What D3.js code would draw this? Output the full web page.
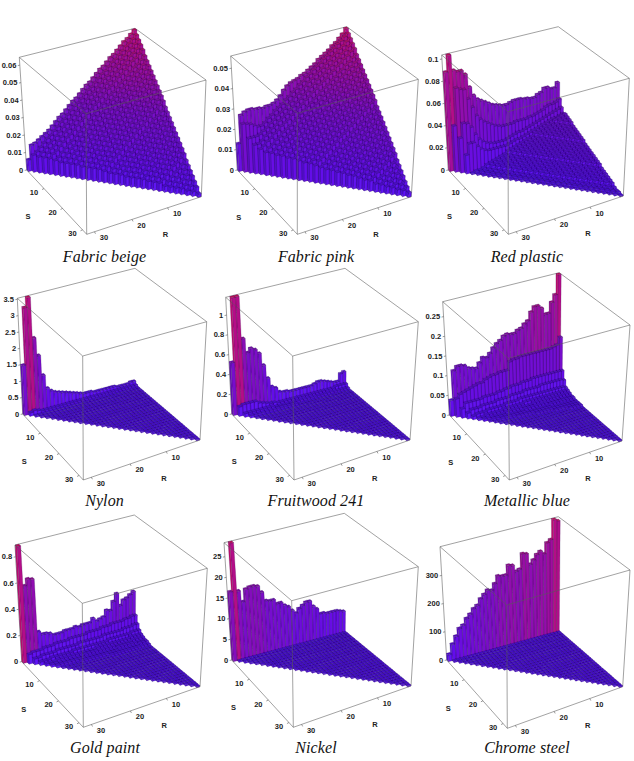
<!DOCTYPE html>
<html lang="en">
<head>
<meta charset="UTF-8"/>
<title>BRDF histograms</title>
<script src="https://cdnjs.cloudflare.com/ajax/libs/d3/7.8.5/d3.min.js"></script>
<style>
    html, body { margin: 0; padding: 0; background: #fff; }
    .tick-label { font: bold 7.5px "Liberation Sans", Arial, sans-serif; fill: #222; }
    .panel-title { font: italic 16px "Liberation Serif", "Times New Roman", serif; fill: #111; letter-spacing: .1px; }
</style>
</head>
<body>
<svg id="chart" width="634" height="761"></svg>
<script>
    // bins per side of the R/S domain
    const binCount = 32;
    // cells that are not listed sit at this level
    const floorLevel = 1;

    const panelNames = ["Fabric beige", "Fabric pink", "Red plastic", "Nylon", "Fruitwood 241", "Metallic blue", "Gold paint", "Nickel", "Chrome steel"];
    const zMaxes = [0.0645, 0.056, 0.1036, 3.53, 1.18, 0.288, 0.89, 28.4, 402];
    const zTicks = [
        [0, 0.01, 0.02, 0.03, 0.04, 0.05, 0.06],
        [0, 0.01, 0.02, 0.03, 0.04, 0.05],
        [0, 0.02, 0.04, 0.06, 0.08, 0.1],
        [0, 0.5, 1, 1.5, 2, 2.5, 3, 3.5],
        [0, 0.2, 0.4, 0.6, 0.8, 1],
        [0, 0.05, 0.1, 0.15, 0.2, 0.25],
        [0, 0.2, 0.4, 0.6, 0.8],
        [0, 5, 10, 15, 20, 25],
        [0, 100, 200, 300]
    ];
    const axisTicks = [10, 20, 30];

    // bar heights, percent of the box height; one row per S bin, R = 0 first
    const beigeRows = [
        [100,97,94,92,89,86,83,81,78,75,73,70,67,64,62,59,56,53,51,48,45,42,40,37,34,31,29,27,25,23,22,10],
        [97,94,91,89,86,83,80,78,75,72,70,67,64,61,59,56,53,50,48,45,42,39,37,34,31,28,26,23,20,17,15],
        [94,91,88,86,83,80,77,75,72,69,67,64,61,58,56,53,50,47,45,42,39,36,34,31,28,25,23,20,17,14],
        [91,88,85,83,80,77,74,72,69,66,64,61,58,55,53,50,47,44,42,39,36,33,31,28,25,22,20,17,14],
        [88,85,82,80,77,74,71,69,66,63,61,58,55,52,50,47,44,41,39,36,33,30,28,25,22,19,17,14],
        [84,81,78,76,73,70,67,65,62,59,57,54,51,48,46,43,40,37,35,32,29,26,24,21,18,15,13],
        [81,78,75,73,70,67,64,62,59,56,54,51,48,45,43,40,37,34,32,29,26,23,21,18,15,12],
        [78,75,72,70,67,64,61,59,56,53,51,48,45,42,40,37,34,31,29,26,23,20,18,15,12],
        [75,72,69,67,64,61,58,56,53,50,48,45,42,39,37,34,31,28,26,23,20,17,15,12],
        [72,69,66,64,61,58,55,53,50,47,45,42,39,36,34,31,28,25,23,20,17,14,12],
        [69,66,63,61,58,55,52,50,47,44,42,39,36,33,31,28,25,22,20,17,14,11],
        [66,63,60,58,55,52,49,47,44,41,39,36,33,30,28,25,22,19,17,14,11],
        [63,60,57,55,52,49,46,44,41,38,36,33,30,27,25,22,19,16,14,11],
        [60,57,54,52,49,46,43,41,38,35,33,30,27,24,22,19,16,13,11],
        [57,54,51,49,46,43,40,38,35,32,30,27,24,21,19,16,13,10],
        [53,50,47,45,42,39,36,34,31,28,26,23,20,17,15,12,9],
        [50,47,44,42,39,36,33,31,28,25,23,20,17,14,12,9],
        [47,44,41,39,36,33,30,28,25,22,20,17,14,11,9],
        [44,41,38,36,33,30,27,25,22,19,17,14,11,8],
        [41,38,35,33,30,27,24,22,19,16,14,11,8],
        [38,35,32,30,27,24,21,19,16,13,11,8],
        [35,32,29,27,24,21,18,16,13,10,8],
        [32,29,26,24,21,18,15,13,10,7],
        [29,26,23,21,18,15,12,10,7],
        [26,23,20,18,15,12,9,7],
        [22,19,16,14,11,8,5],
        [19,16,13,11,8,5],
        [16,13,10,8,5],
        [13,10,7,5],
        [10,7,4],
        [7,4],
        [3]
    ];
    const pinkRows = [
        [100,96,93,90,88,85,83,81,79,76,74,72,70,69,67,66,65,63,60,56,53,51,50,50,49,50,50,51,51,50,48,24],
        [97,95,92,90,87,85,82,80,77,75,73,70,68,65,63,60,58,55,53,50,48,46,43,41,38,36,36,38,40,41,42],
        [94,92,89,87,84,82,79,77,74,72,70,67,65,62,60,57,55,52,50,47,45,43,40,38,35,33,31,30,30,30],
        [91,89,86,84,81,79,76,74,71,69,67,64,62,59,57,54,52,49,47,44,42,40,37,35,32,30,27,25,25],
        [88,86,83,81,78,76,73,71,68,66,64,61,59,56,54,51,49,46,44,41,39,37,34,32,29,27,24,22],
        [84,82,79,77,74,72,69,67,64,62,60,57,55,52,50,47,45,42,40,37,35,33,30,28,25,23,20],
        [81,79,76,74,71,69,66,64,61,59,57,54,52,49,47,44,42,39,37,34,32,30,27,25,22,20],
        [78,76,73,71,68,66,63,61,58,56,54,51,49,46,44,41,39,36,34,31,29,27,24,22,19],
        [75,73,70,68,65,63,60,58,55,53,51,48,46,43,41,38,36,33,31,28,26,24,21,19],
        [72,70,67,65,62,60,57,55,52,50,48,45,43,40,38,35,33,30,28,25,23,21,18],
        [69,67,64,62,59,57,54,52,49,47,45,42,40,37,35,32,30,27,25,22,20,18],
        [66,64,61,59,56,54,51,49,46,44,42,39,37,34,32,29,27,24,22,19,17],
        [63,61,58,56,53,51,48,46,43,41,39,36,34,31,29,26,24,21,19,16],
        [60,58,55,53,50,48,45,43,40,38,36,33,31,28,26,23,21,18,16],
        [57,55,52,50,47,45,42,40,37,35,33,30,28,25,23,20,18,15],
        [53,51,48,46,43,41,38,36,33,31,29,26,24,21,19,16,14],
        [50,48,45,43,40,38,35,33,30,28,26,23,21,18,16,13],
        [47,45,42,40,37,35,32,30,27,25,23,20,18,15,13],
        [44,42,39,37,34,32,29,27,24,22,20,17,15,12],
        [41,39,36,34,31,29,26,24,21,19,17,14,12],
        [38,36,33,31,28,26,23,21,18,16,14,11],
        [35,33,30,28,25,23,20,18,15,13,11],
        [32,30,27,25,22,20,17,15,12,10],
        [29,27,24,22,19,17,14,12,9],
        [26,24,21,19,16,14,11,9],
        [22,20,17,15,12,10,7],
        [19,17,14,12,9,7],
        [16,14,11,9,6],
        [13,11,8,6],
        [10,8,5],
        [7,5],
        [4]
    ];
    const redRows = [
        [53,49,49,51,51,48,47,45,45,46,46,47,47,47,46,45,45,46,47,48,50,52,54,56,60,68,80,84,84,86,100,86],
        [40,38,37,37,36,34,33,32,31,31,30,30,30,30,29,29,29,29,30,31,33,35,37,40,44,52,60,69,70,72,40],
        [34,33,32,31,30,29,28,27,26,25,24,23,22,22,21,20,19,18,18,18,18,19,20,22,25,30,37,41,42,30],
        [30,29,28,28,27,26,25,24,23,22,21,20,19,18,18,17,16,15,15,15,15,15,15,16,18,21,25,25,16],
        [31,30,29,28,26,25,24,23,22,21,19,18,17,16,15,14,13,12,10,9,8,7,6,5,3,2,2,1],
        [30,29,28,26,25,24,23,22,21,19,18,17,16,15,14,13,12,10,9,8,7,6,5,3,2,2,1],
        [29,28,26,25,24,23,22,21,19,18,17,16,15,14,13,12,10,9,8,7,6,5,3,2,2,1],
        [28,26,25,24,23,22,21,19,18,17,16,15,14,13,12,10,9,8,7,6,5,3,2,2,1],
        [26,25,24,23,22,21,19,18,17,16,15,14,13,12,10,9,8,7,6,5,3,2,2,1],
        [25,24,23,22,21,19,18,17,16,15,14,13,12,10,9,8,7,6,5,3,2,2,1],
        [24,23,22,21,19,18,17,16,15,14,13,12,10,9,8,7,6,5,3,2,2,1],
        [23,22,21,19,18,17,16,15,14,13,12,10,9,8,7,6,5,3,2,2,1],
        [22,21,19,18,17,16,15,14,13,12,10,9,8,7,6,5,3,2,2,1],
        [21,19,18,17,16,15,14,13,12,10,9,8,7,6,5,3,2,2,1],
        [19,18,17,16,15,14,13,12,10,9,8,7,6,5,3,2,2,1],
        [18,17,16,15,14,13,12,10,9,8,7,6,5,3,2,2,1],
        [17,16,15,14,13,12,10,9,8,7,6,5,3,2,2,1],
        [16,15,14,13,12,10,9,8,7,6,5,3,2,2,1],
        [15,14,13,12,10,9,8,7,6,5,3,2,2,1],
        [14,13,12,10,9,8,7,6,5,3,2,2,1],
        [13,12,10,9,8,7,6,5,3,2,2,1],
        [12,10,9,8,7,6,5,3,2,2,1],
        [10,9,8,7,6,5,3,2,2,1],
        [9,8,7,6,5,3,2,2,1],
        [8,7,6,5,3,2,2,1],
        [7,6,5,3,2,2,1],
        [6,5,3,2,2,1],
        [5,3,2,2,1],
        [3,2,2,1],
        [2,2,1],
        [2,1],
        [1]
    ];
    const nylonRows = [
        [4,4,3,3,3,3,4,4,4,4,4,4,4,5,5,5,6,7,8,9,10,11,12,13,15,18,30,48,64,100,92,43],
        [2,2,2,2,2,2,2,2,2,2,2,2,2,2,2,2,2,2,2,2,2,2,2,2,2,2,2,2,3,4,3]
    ];
    const fruitwoodRows = [
        [13,12,6,6,7,8,9,10,10,9,8,8,8,8,8,8,8,9,9,10,14,16,24,36,47,51,53,50,63,100,100,45],
        [4,4,4,4,3,3,3,3,3,3,3,3,3,3,3,3,3,3,3,3,3,4,4,5,6,7,9,9,9,9,8],
        [2,2,2,2,2,2,2,2,2,2,2,2,2,2,2,2,2,2,2,2,2,2,3,3,3,3,3,3,3,3],
        [1,1,1,1,1,1,1,1,1,1,1,1,1,1,1,1,2,2,2,2,2,2,2,2,2,2,2,2,2]
    ];
    const metallicRows = [
        [100,83,77,68,68,74,77,77,73,66,64,61,60,58,58,59,58,55,53,50,46,43,44,40,36,37,38,41,42,42,39,14],
        [46,40,39,38,38,38,38,38,38,38,38,38,38,37,37,36,29,29,29,28,28,27,26,24,24,23,22,21,20,19,16],
        [18,18,18,18,18,18,18,18,18,18,17,17,17,16,16,16,15,15,14,14,13,13,13,13,12,12,12,12,12,8],
        [11,12,12,12,12,12,12,12,11,11,11,11,11,10,10,10,10,9,9,9,9,8,8,8,8,7,7,7,5],
        [6,7,7,7,7,7,7,7,7,7,7,7,7,7,7,6,6,6,6,5,5,5,5,5,4,4,4,3],
        [5,5,5,5,5,5,5,5,5,5,5,5,5,5,4,4,4,4,4,4,3,3,3,3,3,2,2],
        [4,4,4,4,4,4,4,4,4,4,4,4,3,3,3,3,3,3,3,3,2,2,2,2,2,2],
        [3,3,3,3,3,3,3,3,3,3,3,3,3,3,3,2,2,2,2,2,2,2,2,2,1],
        [3,3,3,3,3,3,3,3,2,2,2,2,2,2,2,2,2,2,2,2,2,2,1],
        [2,2,2,2,2,2,2,2,2,2,2,2,2,2,2,2,2,2,1,1,1],
        [2,2,2,2,2,2,2,2,2,2,2,2,2,1,1,1],
        [2,2,2,2,2,2,2,2,1,1],
        [2,2,2,2,1,1]
    ];
    const goldRows = [
        [36,34,32,31,27,38,32,25,26,21,20,19,22,19,19,19,18,19,18,18,18,17,17,17,19,20,20,23,69,70,65,100],
        [17,17,16,16,15,15,15,15,14,14,14,13,13,13,13,12,12,12,12,12,11,11,11,11,10,10,10,9,9,9,8],
        [11,11,10,10,10,9,9,9,9,9,9,8,8,8,8,8,8,8,7,7,7,7,7,7,6,6,6,6,5,5],
        [7,7,7,6,6,6,6,6,6,6,5,5,5,5,5,5,5,5,5,5,4,4,4,4,4,4,3,3,3],
        [5,5,5,5,4,4,4,4,4,4,4,4,4,4,3,3,3,3,3,3,3,3,3,3,3,2,2,2],
        [4,4,4,4,3,3,3,3,3,3,3,3,3,3,3,3,3,3,2,2,2,2,2,2,2,2,2],
        [3,3,3,3,3,3,3,3,3,2,2,2,2,2,2,2,2,2,2,2,2,2,2,2,2,2],
        [3,3,3,2,2,2,2,2,2,2,2,2,2,2,2,2,2,2,2,2,1,1,1],
        [2,2,2,2,2,2,2,2,2,2,2,2,1,1,1,1]
    ];
    const nickelRows = [
        [18,19,20,20,20,20,21,21,26,29,34,34,32,30,27,30,34,36,39,39,43,43,44,52,58,59,59,58,48,58,100,59]
    ];
    const chromeRows = [
        [98,100,83,81,72,75,73,69,66,76,77,64,63,69,70,62,62,63,57,52,53,50,47,42,40,36,33,28,26,20,14,6]
    ];
    const panelRows = [beigeRows, pinkRows, redRows, nylonRows, fruitwoodRows, metallicRows, goldRows, nickelRows, chromeRows];

    // box corners per panel: tl, tf (far), tr, tn (near) on top, bl, bn, br on the floor
    const boxes = [
        {tl: [19.3, 57.3], tf: [135, 28.3], tr: [206, 80], tn: [86, 113.7], bl: [26.7, 170], bn: [86.7, 234.3], br: [201.3, 196.7]},
        {tl: [230.7, 56], tf: [346.7, 26.7], tr: [418.3, 79.3], tn: [297.3, 113.3], bl: [237.3, 170], bn: [297.3, 234.3], br: [411.3, 196.7]},
        {tl: [441.7, 55], tf: [558.3, 26.7], tr: [629.3, 78.3], tn: [508, 111.7], bl: [448.3, 170], bn: [508.3, 234.3], br: [623.3, 196]},
        {tl: [17.3, 298.3], tf: [135, 268.3], tr: [206.7, 321.7], tn: [82.7, 356], bl: [22.7, 414], bn: [83.3, 480], br: [200, 440]},
        {tl: [225.7, 297.3], tf: [345, 268.3], tr: [418.3, 321.7], tn: [292.7, 356], bl: [231.7, 414], bn: [294, 480], br: [410, 440]},
        {tl: [442.7, 301.7], tf: [559.3, 272.7], tr: [630, 325], tn: [508.3, 358.3], bl: [449.3, 415], bn: [509.3, 480], br: [622, 441]},
        {tl: [15, 545], tf: [134.3, 515], tr: [207.3, 568.3], tn: [82.3, 603.3], bl: [21.7, 661.7], bn: [83.3, 727.3], br: [200, 686.7]},
        {tl: [224, 542.7], tf: [344.3, 513.3], tr: [418.3, 566.7], tn: [291.7, 600.7], bl: [231.7, 660], bn: [293.3, 727.3], br: [411, 686]},
        {tl: [440, 546.7], tf: [558.3, 516.7], tr: [630, 570], tn: [506.7, 605], bl: [446.7, 660], bn: [507.3, 728.3], br: [622.7, 686.7]}
    ];
    const titlePositions = [[104.5, 262], [316, 262], [527, 262], [104.5, 506], [316, 506], [527, 506], [105, 753], [316, 753], [527, 753]];

    const svg = d3.select("#chart");
    const defs = svg.append("defs");
    defs.append("filter").attr("id", "soft")
        .attr("x", "-5%").attr("y", "-5%").attr("width", "110%").attr("height", "110%")
        .append("feGaussianBlur").attr("stdDeviation", 0.35);

    // Bars take their colour from their own height
    const colorStops = [0, 0.5, 1];
    const topColor = d3.scaleLinear().domain(colorStops).range(["#4410c8", "#6e10a6", "#b81058"]);
    const sideSColor = d3.scaleLinear().domain(colorStops).range(["#5a12f8", "#7a10c8", "#b41088"]);
    const sideRColor = d3.scaleLinear().domain(colorStops).range(["#4c10e0", "#6c10b4", "#c01070"]);

    // Unit square -> quad homography (p00, p10, p11, p01)
    function quadMap(p00, p10, p11, p01) {
        const dx1 = p10[0] - p11[0], dx2 = p01[0] - p11[0], sx = p00[0] - p10[0] + p11[0] - p01[0];
        const dy1 = p10[1] - p11[1], dy2 = p01[1] - p11[1], sy = p00[1] - p10[1] + p11[1] - p01[1];
        const det = dx1 * dy2 - dx2 * dy1;
        const g = (sx * dy2 - dx2 * sy) / det;
        const h = (dx1 * sy - sx * dy1) / det;
        const a = p10[0] - p00[0] + g * p10[0], b = p01[0] - p00[0] + h * p01[0], c = p00[0];
        const d = p10[1] - p00[1] + g * p10[1], e = p01[1] - p00[1] + h * p01[1], f = p00[1];
        return (u, v) => {
            const w = g * u + h * v + 1;
            return [(a * u + b * v + c) / w, (d * u + e * v + f) / w];
        };
    }

    function drawPanel(index) {
        const box = boxes[index];
        const rows = panelRows[index];
        const zMax = zMaxes[index];
        const bf = [box.tf[0] - 0.7, box.tf[1] + box.bl[1] - box.tl[1]];

        const rScale = d3.scaleLinear().domain([0, binCount]).range([0, 1]);
        const sScale = d3.scaleLinear().domain([0, binCount]).range([0, 1]);
        const zScale = d3.scaleLinear().domain([0, zMax]).range([0, 1]);
        const floorMap = quadMap(bf, box.bl, box.bn, box.br);
        const roofMap = quadMap(box.tf, box.tl, box.tn, box.tr);

        function project(r, s, z) {
            const a = floorMap(rScale(r), sScale(s));
            const b = roofMap(rScale(r), sScale(s));
            const w = zScale(z);
            return [a[0] + (b[0] - a[0]) * w, a[1] + (b[1] - a[1]) * w];
        }
        const line = d3.line();
        const g = svg.append("g").attr("class", "panel");

        const backEdges = [[box.tl, box.tf], [box.tf, box.tr], [box.tl, box.bl], [box.tr, box.br]];
        g.selectAll(".back-edge").data(backEdges).enter().append("path")
            .attr("class", "back-edge")
            .attr("d", line).attr("fill", "none").attr("stroke", "#8a8a8a").attr("stroke-width", 0.8);

        // Back to front: far corner (R=0, S=0) first
        const cells = [];
        for (let k = 0; k < binCount; k++) {
            for (let s = 0; s <= k; s++) {
                const r = k - s;
                const row = rows[s] || [];
                const pct = row[r] !== undefined ? row[r] : floorLevel;
                cells.push({r, s, pct, z: pct / 100 * zMax});
            }
        }
        const barGroup = g.append("g").attr("filter", "url(#soft)")
            .attr("stroke", "#1c0040").attr("stroke-opacity", 0.55).attr("stroke-width", 0.35).attr("stroke-linejoin", "round");
        const gap = 0.03;
        cells.forEach(c => {
            const r0 = c.r + gap, r1 = c.r + 1 - gap, s0 = c.s + gap, s1 = c.s + 1 - gap;
            const t = c.pct / 100;
            // face towards +S
            barGroup.append("path")
                .attr("d", line([project(r0, s1, 0), project(r1, s1, 0), project(r1, s1, c.z), project(r0, s1, c.z)]) + "Z")
                .attr("fill", sideSColor(t));
            // face towards +R
            barGroup.append("path")
                .attr("d", line([project(r1, s0, 0), project(r1, s1, 0), project(r1, s1, c.z), project(r1, s0, c.z)]) + "Z")
                .attr("fill", sideRColor(t));
            // top
            barGroup.append("path")
                .attr("d", line([project(r0, s0, c.z), project(r1, s0, c.z), project(r1, s1, c.z), project(r0, s1, c.z)]) + "Z")
                .attr("fill", topColor(t));
        });

        const frontEdges = [[box.tl, box.tn], [box.tn, box.tr], [box.tn, box.bn], [box.bl, box.bn], [box.bn, box.br]];
        g.selectAll(".front-edge").data(frontEdges).enter().append("path")
            .attr("class", "front-edge")
            .attr("d", line).attr("fill", "none").attr("stroke", "#5a5a5a").attr("stroke-opacity", 0.7).attr("stroke-width", 0.8);

        // z axis on the left vertical edge
        zTicks[index].forEach(v => {
            const p = project(binCount, 0, v);
            g.append("line").attr("x1", p[0]).attr("y1", p[1]).attr("x2", p[0] - 2).attr("y2", p[1] + 0.4)
                .attr("stroke", "#555").attr("stroke-width", 0.6);
            g.append("text").attr("class", "tick-label").attr("x", p[0] - 3.5).attr("y", p[1] + 2.6)
                .attr("text-anchor", "end").text(v);
        });

        // S and R axes along the two floor edges
        axisTicks.forEach(v => {
            const ps = project(binCount, v, 0);
            g.append("line").attr("x1", ps[0]).attr("y1", ps[1]).attr("x2", ps[0] - 2).attr("y2", ps[1] + 1)
                .attr("stroke", "#555").attr("stroke-width", 0.6);
            g.append("text").attr("class", "tick-label").attr("x", ps[0] - 10).attr("y", ps[1] + 6.5)
                .attr("text-anchor", "middle").text(v);
            const pr = project(v, binCount, 0);
            g.append("line").attr("x1", pr[0]).attr("y1", pr[1]).attr("x2", pr[0] + 1).attr("y2", pr[1] + 2)
                .attr("stroke", "#555").attr("stroke-width", 0.6);
            g.append("text").attr("class", "tick-label").attr("x", pr[0] + 9.5).attr("y", pr[1] + 8.5)
                .attr("text-anchor", "middle").text(v);
        });
        const sMid = project(binCount, binCount / 2, 0);
        g.append("text").attr("class", "tick-label").attr("x", sMid[0] - 27).attr("y", sMid[1] + 19)
            .attr("text-anchor", "middle").text("S");
        const rMid = project(binCount / 2, binCount, 0);
        g.append("text").attr("class", "tick-label").attr("x", rMid[0] + 19).attr("y", rMid[1] + 22)
            .attr("text-anchor", "middle").text("R");

        g.append("text").attr("class", "panel-title")
            .attr("x", titlePositions[index][0]).attr("y", titlePositions[index][1])
            .attr("text-anchor", "middle").text(panelNames[index]);
    }

    d3.range(panelNames.length).forEach(drawPanel);
</script>
</body>
</html>
